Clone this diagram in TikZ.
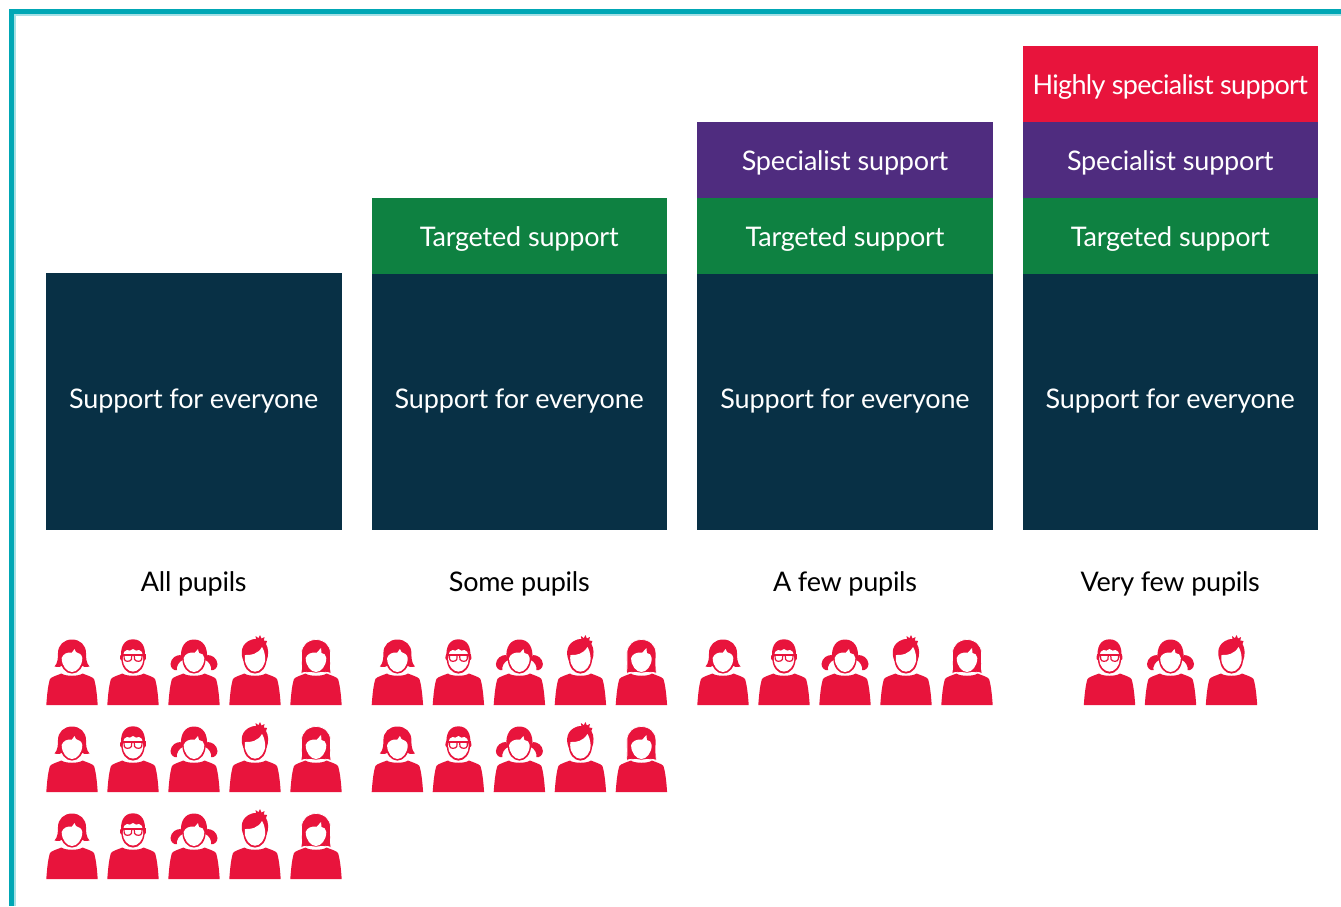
\documentclass[tikz,border=0pt]{standalone}
\usepackage{fontspec}
\setmainfont{Lato}[LetterSpace=-0.7]
\newfontfamily\tightfont{Lato}[LetterSpace=-2.5]
\newfontfamily\capfont{Lato}[LetterSpace=-1.0]
\definecolor{navy}{HTML}{083045}
\definecolor{tgreen}{HTML}{0E8141}
\definecolor{tpurple}{HTML}{4F2C7F}
\definecolor{tred}{HTML}{E8143C}
\definecolor{teal}{HTML}{00A7B5}
\definecolor{paleteal}{HTML}{A6E0E5}
\newcommand{\bodyshape}{\fill[tred] (-25.7,0) .. controls (-25,-10) and (-24,-20) .. (-22,-26) .. controls (-21,-28) and (-14,-30) .. (-10.5,-31.5) .. controls (-7,-28.5) and (7,-28.5) .. (10.5,-31.5) .. controls (14,-30) and (21,-28) .. (22,-26) .. controls (24,-20) and (25,-10) .. (25.7,0) -- cycle;}
\newcommand{\chinring}{\fill[tred] (0,-46) ellipse [x radius=11.6, y radius=14.6];}
\tikzset{
  lab/.style={text=white,font=\fontsize{27}{32}\selectfont,inner sep=0pt,minimum width=295.5,outer sep=0pt},
  captxt/.style={text=black,font=\fontsize{27}{32}\selectfont\capfont,inner sep=0pt,text height=19,text depth=2},
  navybox/.style={lab,fill=navy,minimum height=257,text height=19,text depth=6},
  greenbox/.style={lab,fill=tgreen,minimum height=76,text height=23,text depth=2},
  purplebox/.style={lab,fill=tpurple,minimum height=76,text height=23,text depth=2},
  redbox/.style={lab,fill=tred,minimum height=76,text height=23,text depth=2},
  pics/girlA/.style={code={
    \bodyshape\chinring
    \fill[tred] (-17.5,-38.5) .. controls (-14,-42) and (-14,-48) .. (-14,-52) .. controls (-14,-60) and (-8,-65.5) .. (0,-65.5) .. controls (8,-65.5) and (14,-60) .. (14,-52) .. controls (14,-48) and (14,-42) .. (17.5,-38.5) .. controls (14,-37.5) and (11,-38) .. (8,-40) -- (-8,-40) .. controls (-11,-38) and (-14,-37.5) .. (-17.5,-38.5) -- cycle;
    \fill[white] (-10.3,-47) .. controls (-9,-51) and (-5,-53) .. (0,-52.5) -- (2.5,-56) -- (4,-53) .. controls (7,-52.5) and (10,-50) .. (10.3,-47) .. controls (10.3,-39) and (5,-33) .. (0,-33) .. controls (-5,-33) and (-10.3,-39) .. (-10.3,-47) -- cycle;
  }},
  pics/glasses/.style={code={
    \bodyshape\chinring
    \fill[tred] (-11.8,-47) .. controls (-13,-58) and (-9,-65.7) .. (0,-65.7) .. controls (9,-65.7) and (13,-58) .. (11.8,-47) -- cycle;
    \fill[white] (-9.8,-50) .. controls (-9.5,-52) and (-8.5,-55) .. (-6,-55) .. controls (-4,-54) and (-2,-54) .. (0,-56) .. controls (2,-54) and (4,-54) .. (6,-55) .. controls (8.5,-55) and (9.5,-52) .. (9.8,-50) -- (10.3,-46) .. controls (10.3,-39) and (5,-33.4) .. (0,-33.4) .. controls (-5,-33.4) and (-10.3,-39) .. (-10.3,-46) -- cycle;
    \fill[tred] (-12.5,-50.6) rectangle (12.5,-49.2);
    \fill[tred] (-12.5,-50) .. controls (-13.5,-47) and (-13,-44.5) .. (-11,-44) -- (-10,-50) -- cycle;
    \fill[tred] (12.5,-50) .. controls (13.5,-47) and (13,-44.5) .. (11,-44) -- (10,-50) -- cycle;
    \draw[tred,line width=1.2] (-9,-50) -- (-8.8,-46) .. controls (-8.5,-43) and (-3,-43) .. (-1.6,-45.5) -- (-1.2,-50);
    \draw[tred,line width=1.2] (9,-50) -- (8.8,-46) .. controls (8.5,-43) and (3,-43) .. (1.6,-45.5) -- (1.2,-50);
  }},
  pics/pigtail/.style={code={
    \bodyshape\chinring
    \fill[tred] (-13.5,-50) .. controls (-18,-50) and (-23,-47) .. (-23.5,-41) .. controls (-23.5,-37) and (-20,-34) .. (-17,-35) .. controls (-18,-38) and (-15,-44) .. (-11,-45) -- cycle;
    \fill[tred] (13.5,-50) .. controls (18,-50) and (23,-47) .. (23.5,-41) .. controls (23.5,-37) and (20,-34) .. (17,-35) .. controls (18,-38) and (15,-44) .. (11,-45) -- cycle;
    \fill[tred] (-13,-46) .. controls (-14,-58) and (-9,-65.5) .. (0,-65.5) .. controls (9,-65.5) and (14,-58) .. (13,-46) -- cycle;
    \fill[white] (-10.3,-47) .. controls (-9,-51) and (-5,-53) .. (1,-52.5) -- (4,-56) -- (5,-52) .. controls (8,-52) and (10,-50) .. (10.3,-47) .. controls (10.3,-39) and (5,-33) .. (0,-33) .. controls (-5,-33) and (-10.3,-39) .. (-10.3,-47) -- cycle;
  }},
  pics/boy/.style={code={
    \bodyshape\chinring
    \fill[tred] (-11.5,-44) .. controls (-15,-52) and (-14,-62) .. (-3,-65.5) .. controls (-1,-66) and (0,-66) .. (1,-66) -- (0.5,-69) -- (3.5,-66.8) -- (5,-70) -- (6.5,-66.5) -- (9.5,-68) -- (8.8,-64.5) -- (12,-64) -- (11,-61) .. controls (13.5,-57) and (14,-50) .. (11.5,-44) -- cycle;
    \fill[white] (-10,-50) .. controls (-4,-49.5) and (3,-51) .. (7,-58) .. controls (8.5,-56) and (9.8,-52) .. (10.2,-47) .. controls (10.3,-39) and (5,-33.3) .. (0,-33.3) .. controls (-5,-33.3) and (-10.3,-39) .. (-10.2,-47) -- cycle;
  }},
  pics/bob/.style={code={
    \bodyshape
    \fill[tred,draw=white,line width=0.7] (-15,-31.5) .. controls (-14,-38) and (-14.5,-44) .. (-14.5,-52) .. controls (-14.5,-60) and (-8,-65.5) .. (0,-65.5) .. controls (8,-65.5) and (14.5,-60) .. (14.5,-52) .. controls (14.5,-44) and (14,-38) .. (15,-31.5) .. controls (12,-33) and (9,-33) .. (0,-32) .. controls (-9,-33) and (-12,-33) .. (-15,-31.5) -- cycle;
    \fill[white] (-10.3,-47) .. controls (-9,-51) and (-5,-53) .. (1,-52.5) -- (5,-57) -- (5.5,-52) .. controls (8,-52) and (10,-50) .. (10.3,-47) .. controls (10.3,-39) and (5,-33) .. (0,-33) .. controls (-5,-33) and (-10.3,-39) .. (-10.3,-47) -- cycle;
  }},
}
\begin{document}
\begin{tikzpicture}[x=1pt,y=-1pt]
\useasboundingbox (0,0) rectangle (1341,906);
\fill[white] (0,0) rectangle (1341,906);
\fill[paleteal] (14,14) rectangle (1341,15.5);
\fill[paleteal] (14,14) rectangle (15.5,906);
\fill[teal] (9,9) rectangle (1341,14);
\fill[teal] (9,9) rectangle (14,906);
% column 1
\node[navybox] (n1) at (193.75,401.5) {Support for everyone};
\node[captxt] (c1) at (193.75,583) {All pupils};
% column 2
\node[navybox] (n2) at (519.25,401.5) {Support for everyone};
\node[greenbox] (g2) at (519.25,235.5) {Targeted support};
\node[captxt] (c2) at (519.25,583) {Some pupils};
% column 3
\node[navybox] (n3) at (845,401.5) {Support for everyone};
\node[greenbox] (g3) at (845,235.5) {Targeted support};
\node[purplebox] (p3) at (845,159.75) {Specialist support};
\node[captxt] (c3) at (845,583) {A few pupils};
% column 4
\node[navybox] (n4) at (1170.25,401.5) {Support for everyone};
\node[greenbox] (g4) at (1170.25,235.5) {Targeted support};
\node[purplebox] (p4) at (1170.25,159.75) {Specialist support};
\node[redbox] (r4) at (1170.25,84) {\tightfont Highly specialist support};
\node[captxt] (c4) at (1170.25,583) {Very few pupils};
% icons
\foreach \ox/\rows in {0/{705,792,879},325.4/{705,792},651/{705}}{
  \foreach \ry in \rows {
    \pic at (72+\ox,\ry) {girlA};
    \pic at (133+\ox,\ry) {glasses};
    \pic at (194+\ox,\ry) {pigtail};
    \pic at (255+\ox,\ry) {boy};
    \pic at (316+\ox,\ry) {bob};
  }
}
\pic at (1109.5,705) {glasses};
\pic at (1170.5,705) {pigtail};
\pic at (1231.5,705) {boy};
\end{tikzpicture}
\end{document}
